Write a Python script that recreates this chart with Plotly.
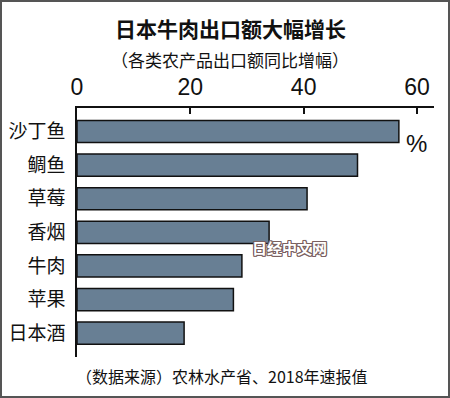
import plotly.graph_objects as go

categories = ["沙丁鱼", "鲷鱼", "草莓", "香烟", "牛肉", "苹果", "日本酒"]
values = [56.8, 49.5, 40.6, 33.9, 29.1, 27.6, 18.9]
tick_vals = [0, 20, 40, 60]
tick_text = ["0", "20", "40", "60"]

FONT = "Noto Sans CJK SC"
L, R, T, B = 77, 16, 108, 41
PW, PH = 450 - L - R, 398 - T - B

def px(x):
    return (x - L) / PW

def py(y):
    return 1 - (y - T) / PH

fig = go.Figure(go.Bar(
    x=values, y=categories, orientation="h",
    marker=dict(color="#687f94", line=dict(color="#111111", width=1.5)),
    width=0.66,
))

fig.update_layout(
    width=450, height=398,
    margin=dict(l=L, r=R, t=T, b=B, autoexpand=False),
    paper_bgcolor="white", plot_bgcolor="white",
    font=dict(family=FONT, color="#111111"),
    showlegend=False,
)

fig.update_xaxes(
    side="top", range=[0, 63], tickvals=tick_vals, ticktext=tick_text,
    showgrid=False, zeroline=False, automargin=False,
    showline=True, linecolor="#111111", linewidth=1.5,
    ticks="inside", ticklen=6, tickcolor="#111111", tickwidth=1.5,
    tickfont=dict(family="Liberation Sans Narrow, Liberation Sans, sans-serif", size=23, color="#111111"),
    ticklabelstandoff=2,
)
fig.update_yaxes(
    type="category", categoryorder="array", categoryarray=categories,
    range=[6.71, -0.70], automargin=False,
    showgrid=False, zeroline=False,
    showline=True, linecolor="#111111", linewidth=1.5,
    ticks="", tickfont=dict(family=FONT, size=19, color="#111111"),
    ticklabelstandoff=6,
)

fig.add_annotation(text="<b>日本牛肉出口额大幅增长</b>", xref="paper", yref="paper",
                   x=px(230), y=py(28), showarrow=False,
                   font=dict(family=FONT, size=21, color="#111111"), xanchor="center", yanchor="middle")
fig.add_annotation(text="（各类农产品出口额同比增幅）", xref="paper", yref="paper",
                   x=px(230), y=py(59), showarrow=False,
                   font=dict(family=FONT, size=17, color="#111111"), xanchor="center", yanchor="middle")
fig.add_annotation(text="%", xref="paper", yref="paper",
                   x=px(416), y=py(143), showarrow=False,
                   font=dict(family="Liberation Sans, sans-serif", size=24, color="#111111"),
                   xanchor="center", yanchor="middle")
fig.add_annotation(text="<b>日经中文网</b>", xref="paper", yref="paper",
                   x=px(289), y=py(247), showarrow=False,
                   font=dict(family=FONT, size=15, color="white",
                             shadow="1px 0 0 #7a6060, -1px 0 0 #7a6060, 0 1px 0 #7a6060, 0 -1px 0 #7a6060, 1px 1px 0 #7a6060, -1px -1px 0 #7a6060, 1px -1px 0 #7a6060, -1px 1px 0 #7a6060"),
                   xanchor="center", yanchor="middle")
fig.add_annotation(text="（数据来源）农林水产省、2018年速报值", xref="paper", yref="paper",
                   x=px(222), y=py(376), showarrow=False,
                   font=dict(family=FONT, size=16, color="#111111"), xanchor="center", yanchor="middle")

# outer frame
fig.add_shape(type="rect", xref="paper", yref="paper",
              x0=px(1), x1=px(449), y0=py(397), y1=py(1),
              line=dict(color="#555555", width=2), fillcolor="rgba(0,0,0,0)")

fig.write_html("out.html", config={"displayModeBar": False},
               post_script="document.body.style.margin='0';document.body.style.overflow='hidden';")
